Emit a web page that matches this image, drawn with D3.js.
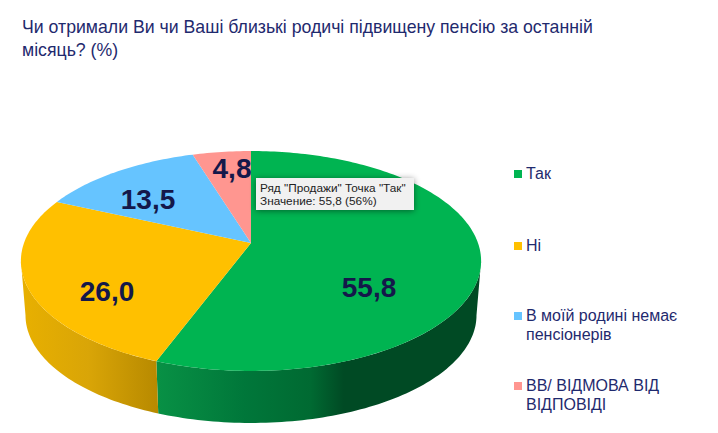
<!DOCTYPE html>
<html>
<head>
<meta charset="utf-8">
<script src="https://d3js.org/d3.v7.min.js"></script>
<style>
html, body { margin: 0; padding: 0; background: #fff; }
text { font-family: "Liberation Sans", Arial, sans-serif; }
</style>
</head>
<body>
<div id="plot"></div>
<script>
// data
var categories = ["Так", "Ні", "В моїй родині немає пенсіонерів", "ВВ/ ВІДМОВА ВІД ВІДПОВІДІ"]
var values = [55.8, 26.0, 13.5, 4.8]
var valueLabels = ["55,8", "26,0", "13,5", "4,8"]
var legendLines = [["Так"], ["Ні"], ["В моїй родині немає", "пенсіонерів"], ["ВВ/ ВІДМОВА ВІД", "ВІДПОВІДІ"]]
var titleLines = ["Чи отримали Ви чи Ваші близькі родичі підвищену пенсію за останній", "місяць? (%)"]
var tooltipLines = ['Ряд "Продажи" Точка "Так"', 'Значение: 55,8 (56%)']

// styles and layout
var topColors = ["#00b451", "#ffc000", "#66c4ff", "#ff9690"]
var wallStops = [
    [[0, "#089145"], [0.27, "#00773a"], [0.475, "#006a32"], [0.577, "#004a24"], [1, "#004a24"]],
    [[0, "#e8b000"], [0.5, "#d9a507"], [1, "#b88a00"]]
]
var labelPos = [[369, 287], [107, 291], [148, 199], [232, 168]]
var legendY = [174, 246, 316, 386]

var width = 718, height = 433
var svg = d3.select("#plot").append("svg")
    .attr("width", width)
    .attr("height", height)
    .style("display", "block")

var defs = svg.append("defs")

// perspective disc: p is the foreshortening, depth the wall height
var cx = 251, cy = 243, R = 227, H = 107, p = 0.1636, depth = 54.6, baseScale = 0.98
var x = d3.scaleLinear().domain([-1, 1]).range([cx - R, cx + R])
var y = d3.scaleLinear().domain([-1, 1]).range([cy - H, cy + H])

function project(a, r, dy) {
    var u = Math.sin(a), v = -Math.cos(a)
    var s = r / (1 - p * v)
    return [x(u * s), y(v * s) + (dy || 0)]
}

function sample(a0, a1, r, dy) {
    var n = Math.max(2, Math.ceil(Math.abs(a1 - a0) / 0.02))
    return d3.range(n + 1).map(function (i) {
        return project(a0 + (a1 - a0) * i / n, r, dy)
    })
}

var line = d3.line()
var arcs = d3.pie().sort(null)(values)
var seam = project(arcs[0].endAngle, 1)[0]

// side wall, only the part facing the viewer (between the widest points of the disc)
var tilt = Math.asin(p)
var walls = [
    {slice: 0, a0: Math.PI * 0.5 + tilt, a1: arcs[0].endAngle},
    {slice: 1, a0: arcs[1].startAngle, a1: Math.PI * 1.5 - tilt}
]

walls.forEach(function (w, i) {
    var top = sample(w.a0, w.a1, 1, 0)
    var bot = sample(w.a0, w.a1, baseScale, depth)
    var xs = top.map(function (d) { return d[0] })
    var grad = defs.append("linearGradient")
        .attr("id", "wall" + i)
        .attr("gradientUnits", "userSpaceOnUse")
        .attr("x1", i == 0 ? seam : d3.min(xs))
        .attr("x2", i == 0 ? d3.max(xs) : seam)
        .attr("y1", 0)
        .attr("y2", 0)
    wallStops[i].forEach(function (s) {
        grad.append("stop").attr("offset", s[0]).attr("stop-color", s[1])
    })
    svg.append("path")
        .attr("d", line(top.concat(bot.reverse())) + "Z")
        .attr("fill", "url(#wall" + i + ")")
})

// top face
svg.selectAll(".slice")
    .data(arcs)
    .enter().append("path")
    .attr("class", "slice")
    .attr("d", function (d) {
        return line([[cx, cy]].concat(sample(d.startAngle, d.endAngle, 1, 0))) + "Z"
    })
    .attr("fill", function (d, i) { return topColors[i] })

// value labels
svg.selectAll(".val")
    .data(valueLabels)
    .enter().append("text")
    .attr("class", "val")
    .attr("x", function (d, i) { return labelPos[i][0] })
    .attr("y", function (d, i) { return labelPos[i][1] })
    .attr("dy", "0.36em")
    .attr("text-anchor", "middle")
    .attr("font-size", 28)
    .attr("font-weight", "bold")
    .attr("fill", "#14184a")
    .text(function (d) { return d })

// title
svg.append("g").selectAll("text")
    .data(titleLines)
    .enter().append("text")
    .attr("x", 22)
    .attr("y", function (d, i) { return 33 + i * 23 })
    .attr("font-size", 17.7)
    .attr("fill", "#1f2a6e")
    .text(function (d) { return d })

// legend
var leg = svg.selectAll(".leg")
    .data(categories)
    .enter().append("g")
    .attr("class", "leg")
    .attr("transform", function (d, i) { return "translate(514," + legendY[i] + ")" })

leg.append("rect")
    .attr("y", -4)
    .attr("width", 8)
    .attr("height", 8)
    .attr("fill", function (d, i) { return topColors[i] })

leg.selectAll("text")
    .data(function (d, i) { return legendLines[i] })
    .enter().append("text")
    .attr("x", 12)
    .attr("y", function (d, i) { return 5 + i * 18.5 })
    .attr("font-size", 16)
    .attr("fill", "#1f2a6e")
    .text(function (d) { return d })

// tooltip
var blur = defs.append("filter").attr("id", "tipShadow")
    .attr("x", "-10%").attr("y", "-30%").attr("width", "120%").attr("height", "170%")
blur.append("feDropShadow")
    .attr("dx", 0).attr("dy", 1).attr("stdDeviation", 3)
    .attr("flood-color", "#000").attr("flood-opacity", 0.45)

var tip = svg.append("g").attr("transform", "translate(256,178)")
tip.append("rect")
    .attr("width", 158)
    .attr("height", 32)
    .attr("fill", "#f1f1f1")
    .attr("filter", "url(#tipShadow)")
tip.selectAll("text")
    .data(tooltipLines)
    .enter().append("text")
    .attr("x", 4)
    .attr("y", function (d, i) { return 14 + i * 13 })
    .attr("font-size", 11.8)
    .attr("fill", "#222")
    .text(function (d) { return d })
</script>
</body>
</html>
